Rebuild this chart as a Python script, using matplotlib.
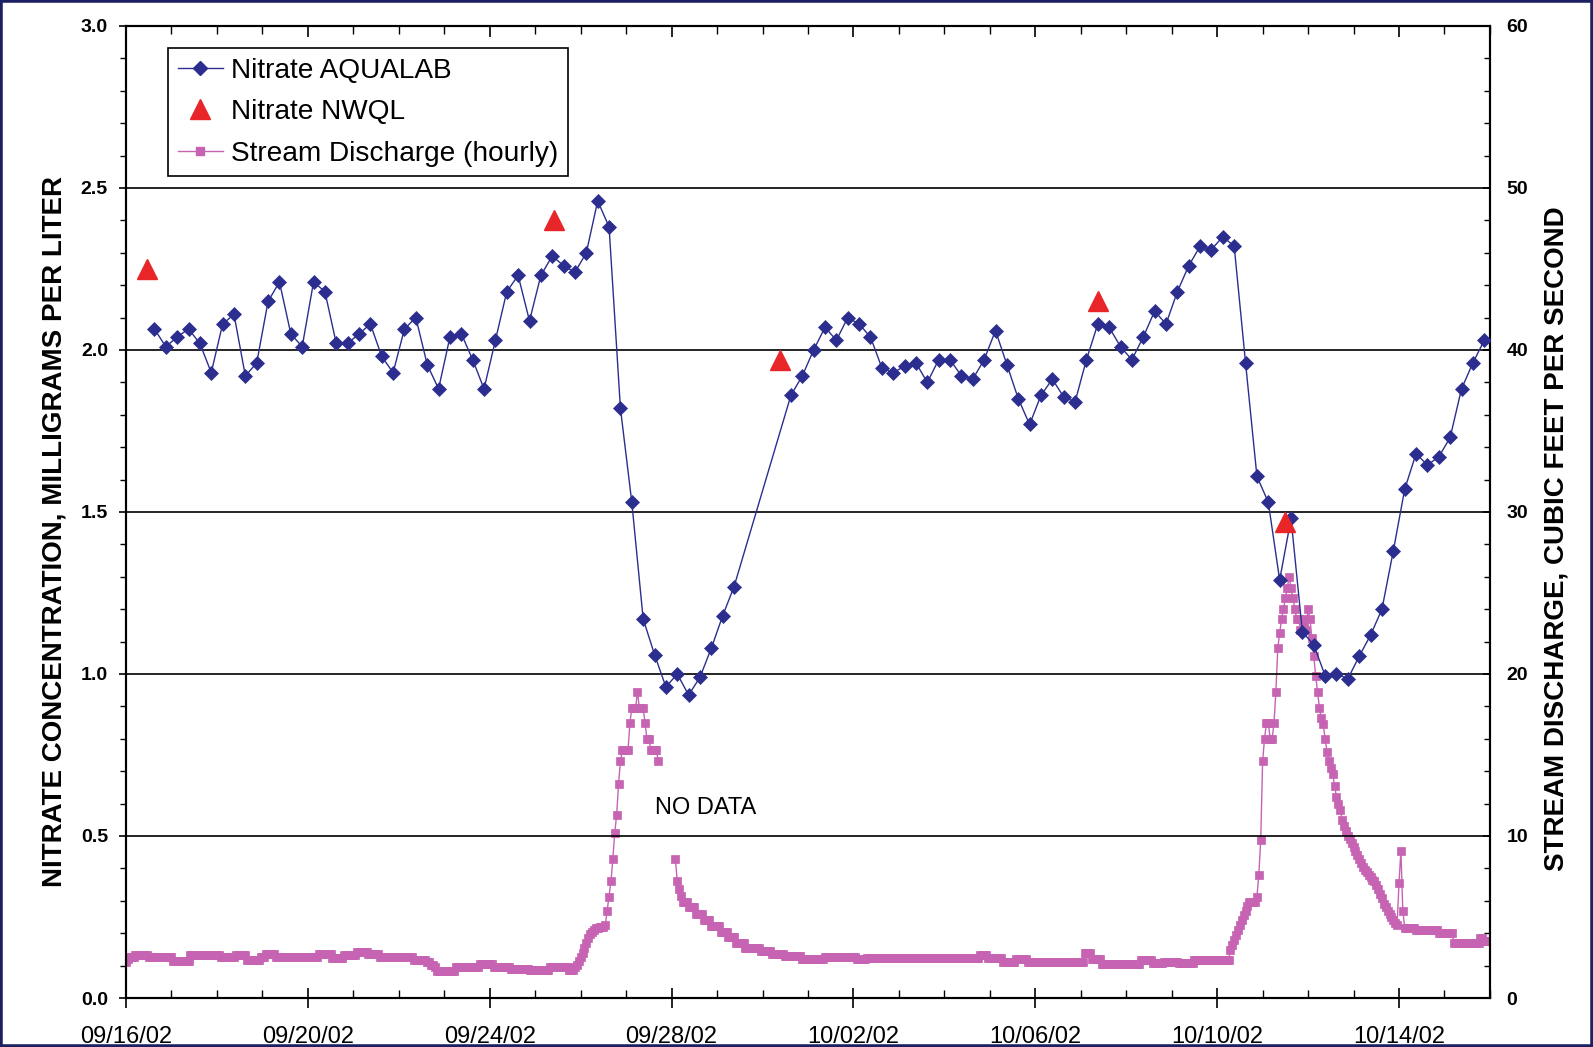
import numpy as np
import pandas as pd
import matplotlib
matplotlib.use("Agg")
import matplotlib.pyplot as plt
import matplotlib.dates as mdates
from matplotlib.lines import Line2D
from matplotlib.patches import Rectangle
from matplotlib.ticker import FixedLocator, MultipleLocator

plt.rcParams['font.family'] = ['Liberation Sans', 'DejaVu Sans']

START = pd.Timestamp("2002-09-16")
N_DAYS = 30

# Nitrate AQUALAB (mg/L), sampled every 6 hours; two runs split by a gap on 09/29-09/30
aqualab_start_hours = [15, 351]
aqualab_run1 = [2.065, 2.01, 2.04, 2.065, 2.02, 1.93, 2.08, 2.11, 1.92, 1.96, 2.15, 2.21, 2.05,
                2.01, 2.21, 2.18, 2.02, 2.02, 2.05, 2.08, 1.98, 1.93, 2.065, 2.10, 1.955, 1.88,
                2.04, 2.05, 1.97, 1.88, 2.03, 2.18, 2.23, 2.09, 2.23, 2.29, 2.26, 2.24, 2.30,
                2.46, 2.38, 1.82, 1.53, 1.17, 1.06, 0.96, 1.00, 0.935, 0.99, 1.08, 1.18, 1.27]
aqualab_run2 = [1.86, 1.92, 2.00, 2.07, 2.03, 2.10, 2.08, 2.04, 1.945, 1.93, 1.95, 1.96, 1.90,
                1.97, 1.97, 1.92, 1.91, 1.97, 2.06, 1.955, 1.85, 1.77, 1.86, 1.91, 1.855, 1.84,
                1.97, 2.08, 2.07, 2.01, 1.97, 2.04, 2.12, 2.08, 2.18, 2.26, 2.32, 2.31, 2.35,
                2.32, 1.96, 1.61, 1.53, 1.29, 1.48, 1.13, 1.09, 0.995, 1.00, 0.985, 1.055, 1.12,
                1.20, 1.38, 1.57, 1.68, 1.645, 1.67, 1.73, 1.88, 1.96, 2.03]

# Nitrate NWQL samples
nwql_hours = [11, 226, 345, 513, 612]
nwql_values = [2.25, 2.40, 1.97, 2.15, 1.47]

# Stream discharge (cfs), hourly from 09/16 00:00, as (level, number of hours)
nan = float('nan')
q_runs = [
    (2.2, 1), (2.4, 1), (2.55, 3), (2.65, 7), (2.5, 13), (2.3, 9), (2.65, 16), (2.5, 8),
    (2.65, 6), (2.35, 7), (2.55, 3), (2.7, 5), (2.55, 23), (2.7, 7), (2.45, 6), (2.65, 7),
    (2.85, 6), (2.7, 6), (2.55, 18), (2.35, 7), (2.2, 2), (2.05, 2), (1.9, 1), (1.65, 10),
    (1.93, 13), (2.1, 7), (1.93, 9), (1.77, 10), (1.75, 11), (1.93, 10), (1.75, 3),
    # first storm
    (1.9, 1), (2.05, 1), (2.3, 1), (2.55, 1), (2.8, 1), (3.1, 1), (3.4, 1), (3.7, 1),
    (3.95, 1), (4.1, 1), (4.2, 1), (4.3, 2), (4.4, 3), (4.5, 1), (5.4, 1), (6.25, 1),
    (7.2, 1), (8.6, 1), (10.2, 1), (11.3, 1), (13.2, 1), (14.6, 1), (15.3, 4), (16.95, 1),
    (17.9, 3), (18.9, 1), (17.9, 3), (16.95, 1), (16.0, 2), (15.3, 4), (14.6, 1),
    (nan, 8),
    # recession
    (8.6, 1), (7.2, 1), (6.7, 1), (6.3, 1), (5.95, 3), (5.6, 4), (5.2, 4), (4.8, 4),
    (4.45, 5), (4.1, 4), (3.75, 4), (3.4, 5), (3.1, 8), (2.9, 6), (2.7, 7), (2.6, 9),
    (2.4, 12), (2.55, 17), (2.4, 5), (2.45, 60), (2.66, 4), (2.45, 8), (2.25, 7), (2.4, 6),
    (2.25, 30), (2.8, 4), (2.4, 5), (2.1, 21), (2.35, 6), (2.15, 6), (2.2, 8), (2.15, 8),
    (2.35, 19),
    # second storm
    (2.96, 1), (3.3, 1), (3.6, 1), (3.9, 1), (4.2, 1), (4.5, 1), (4.8, 1), (5.1, 1),
    (5.4, 1), (5.7, 1), (5.95, 4), (6.25, 1), (7.6, 1), (9.75, 1), (14.6, 1), (16.0, 1),
    (16.95, 2), (16.0, 2), (16.95, 1), (18.9, 1), (21.6, 1), (22.5, 1), (23.4, 1),
    (24.0, 1), (24.7, 1), (25.3, 1), (26.0, 1), (25.3, 1), (24.7, 1), (24.0, 1), (23.4, 2),
    (22.7, 1), (23.4, 1), (23.0, 1), (22.7, 1), (24.0, 1), (23.4, 1), (22.2, 1), (21.1, 1),
    (19.9, 1), (18.9, 1), (17.9, 1), (17.3, 1), (16.9, 1), (16.0, 1), (15.2, 1), (14.6, 1),
    (14.2, 1), (13.8, 1), (13.1, 1), (12.4, 1), (12.0, 1), (11.6, 1), (11.0, 1), (10.6, 1),
    (10.3, 1), (10.0, 1), (9.8, 1), (9.55, 1), (9.3, 1), (9.1, 1), (8.85, 1), (8.6, 1),
    (8.35, 1), (8.1, 1), (7.9, 1), (7.75, 1), (7.6, 1), (7.45, 1), (7.3, 1), (7.2, 1),
    (6.95, 1), (6.7, 1), (6.45, 1), (6.2, 1), (5.8, 1), (5.6, 1), (5.4, 1), (5.2, 1),
    (5.0, 1), (4.8, 1), (4.6, 1), (4.5, 1), (7.1, 1), (9.1, 1), (5.4, 1), (4.35, 6),
    (4.2, 12), (4.0, 8), (3.4, 14), (3.7, 2), (3.5, 4),
]

NAVY = '#2B2E8E'
RED = '#E8262A'
PINK = '#C663B2'

d0 = mdates.date2num(START)
q_levels = [lv for lv, n in q_runs]
q_counts = [n for lv, n in q_runs]
discharge = np.repeat(q_levels, q_counts)
q_x = d0 + np.arange(len(discharge)) / 24.0

aq_x1 = d0 + (aqualab_start_hours[0] + 6 * np.arange(len(aqualab_run1))) / 24.0
aq_x2 = d0 + (aqualab_start_hours[1] + 6 * np.arange(len(aqualab_run2))) / 24.0
aq_x = np.concatenate([aq_x1, aq_x2])
aq_y = np.concatenate([aqualab_run1, aqualab_run2])
nwql_x = d0 + np.array(nwql_hours) / 24.0

fig = plt.figure(figsize=(15.93, 10.47), dpi=100)
ax = fig.add_axes([0.0791, 0.0468, 0.8562, 0.9284])
ax2 = ax.twinx()

# discharge on the right axis, drawn beneath the nitrate series
ax2.plot(q_x, discharge, color=PINK, lw=1.0, marker='s', ms=5.8, mec=PINK, mew=0.5)
ax2.set_ylim(0, 60)

ax.set_zorder(ax2.get_zorder() + 1)
ax.patch.set_visible(False)

ax.plot(aq_x, aq_y, color=NAVY, lw=1.0, marker='D', ms=7.4, mec=NAVY, mew=0.5, zorder=3)
ax.plot(nwql_x, nwql_values, ls='none', marker='^', ms=15, color=RED, mec=RED, zorder=4)
ax.text(d0 + 12.75, 0.586, 'NO DATA', fontsize=17, ha='center', va='center')

ax.set_xlim(d0, d0 + N_DAYS)
ax.set_ylim(0, 3.0)
ax.xaxis.set_major_locator(FixedLocator(d0 + np.arange(0, N_DAYS, 4)))
ax.xaxis.set_minor_locator(FixedLocator(d0 + np.arange(0, N_DAYS + 1)))
ax.xaxis.set_major_formatter(mdates.DateFormatter('%m/%d/%y'))
ax.yaxis.set_major_locator(MultipleLocator(0.5))
ax.yaxis.set_minor_locator(MultipleLocator(0.1))
ax.yaxis.set_major_formatter(plt.FormatStrFormatter('%.1f'))
ax2.yaxis.set_major_locator(MultipleLocator(10))
ax2.yaxis.set_minor_locator(MultipleLocator(2))

ax.tick_params(axis='x', which='major', direction='inout', length=14, width=1.2,
               labelsize=17, pad=13)
ax.tick_params(axis='x', which='minor', direction='in', length=6, width=1.0)
ax.tick_params(axis='y', which='major', direction='out', length=5, width=1.2,
               labelsize=14, pad=8)
ax.tick_params(axis='y', which='minor', direction='out', length=4, width=1.0)
for lab in ax.get_yticklabels():
    lab.set_fontweight('bold')

ax2.xaxis.set_visible(True)
ax2.tick_params(axis='x', which='both', bottom=False, top=True, labelbottom=False,
                labeltop=False, direction='in')
ax2.tick_params(axis='x', which='major', length=8, width=1.2)
ax2.tick_params(axis='x', which='minor', length=6, width=1.0)
ax2.tick_params(axis='y', which='major', direction='in', length=5, width=1.2,
                labelsize=14, pad=12)
ax2.tick_params(axis='y', which='minor', direction='in', length=4, width=1.0)
for lab in ax2.get_yticklabels():
    lab.set_fontweight('bold')

ax.yaxis.grid(True, which='major', color='black', lw=1.2)
for a in (ax, ax2):
    for sp in a.spines.values():
        sp.set_linewidth(1.5)

fig.text(0.034, 0.4928, 'NITRATE CONCENTRATION, MILLIGRAMS PER LITER', rotation=90,
         fontsize=20, fontweight='bold', ha='center', va='center')
fig.text(0.977, 0.4857, 'STREAM DISCHARGE, CUBIC FEET PER SECOND', rotation=90,
         fontsize=20, fontweight='bold', ha='center', va='center')

handles = [
    Line2D([], [], color=NAVY, lw=1.0, marker='D', ms=7.4, mec=NAVY),
    Line2D([], [], color=RED, ls='none', marker='^', ms=15, mec=RED),
    Line2D([], [], color=PINK, lw=1.0, marker='s', ms=5.8, mec=PINK),
]
labels = ['Nitrate AQUALAB', 'Nitrate NWQL', 'Stream Discharge (hourly)']
leg = ax.legend(handles, labels, loc='upper left', bbox_to_anchor=(0.0308, 0.9774),
                borderaxespad=0, fontsize=20.2, frameon=True, fancybox=False,
                edgecolor='black', framealpha=1, handlelength=1.6, handletextpad=0.3,
                labelspacing=0.55, borderpad=0.35)
leg.get_frame().set_linewidth(1.2)

fig.patches.append(Rectangle((0, 0), 1, 1, transform=fig.transFigure, fill=False,
                             edgecolor='#1C2060', lw=4))

fig.savefig('out.png', dpi=100)
